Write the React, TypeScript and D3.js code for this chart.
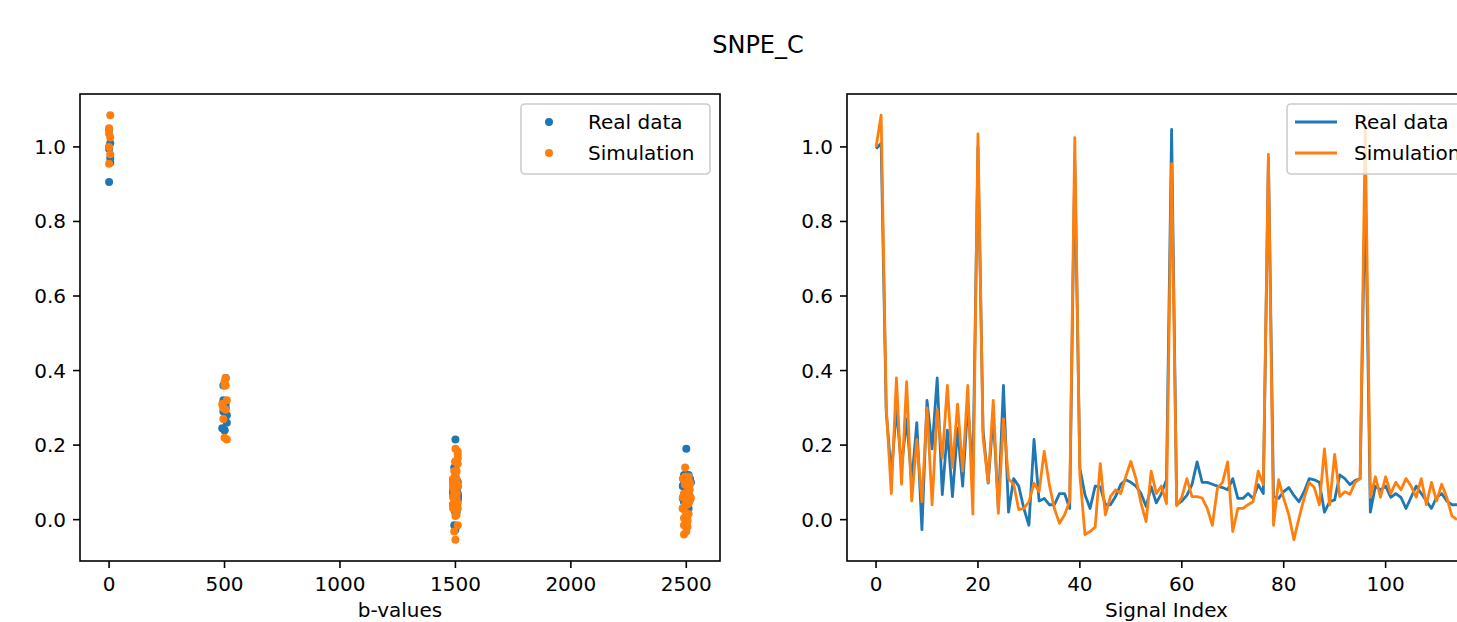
import React, { useRef, useEffect } from 'react'
import * as d3 from 'd3'

// signal per acquisition index (115 measurements)
const realSignal = [
  0.995, 1.01, 0.29, 0.12, 0.30, 0.14, 0.27, 0.10, 0.26, -0.027,
  0.32, 0.19, 0.38, 0.067, 0.24, 0.062, 0.245, 0.09, 0.31, 0.12,
  1.0, 0.24, 0.098, 0.28, 0.03, 0.36, 0.02, 0.11, 0.09, 0.03,
  -0.015, 0.215, 0.05, 0.057, 0.04, 0.04, 0.07, 0.07, 0.03, 0.958,
  0.138, 0.067, 0.03, 0.09, 0.088, 0.04, 0.04, 0.062, 0.094, 0.107,
  0.10, 0.09, 0.07, 0.035, 0.088, 0.045, 0.07, 0.107, 1.047, 0.04,
  0.05, 0.065, 0.094, 0.155, 0.10, 0.10, 0.095, 0.09, 0.086, 0.08,
  0.11, 0.057, 0.057, 0.07, 0.057, 0.094, 0.07, 0.97, 0.062, 0.057,
  0.075, 0.086, 0.065, 0.048, 0.075, 0.11, 0.107, 0.10, 0.02, 0.048,
  0.053, 0.12, 0.11, 0.094, 0.105, 0.11, 0.906, 0.02, 0.09, 0.08,
  0.09, 0.06, 0.07, 0.06, 0.03, 0.06, 0.09, 0.07, 0.05, 0.03,
  0.06, 0.07, 0.05, 0.04, 0.04,
]
const simSignal = [
  1.0, 1.085, 0.30, 0.07, 0.38, 0.095, 0.37, 0.05, 0.215, 0.048,
  0.30, 0.04, 0.295, 0.165, 0.36, 0.14, 0.31, 0.13, 0.36, 0.015,
  1.035, 0.22, 0.10, 0.32, 0.017, 0.27, 0.11, 0.095, 0.027, 0.03,
  0.048, 0.098, 0.075, 0.183, 0.094, 0.03, -0.01, 0.013, 0.05, 1.025,
  0.12, -0.04, -0.032, -0.02, 0.15, 0.013, 0.062, 0.08, 0.07, 0.115,
  0.156, 0.11, 0.044, -0.005, 0.13, 0.07, 0.09, 0.043, 0.955, 0.037,
  0.06, 0.11, 0.062, 0.062, 0.058, 0.03, -0.015, 0.085, 0.10, 0.155,
  -0.032, 0.03, 0.03, 0.04, 0.048, 0.13, 0.094, 0.98, -0.015, 0.107,
  0.057, 0.013, -0.054, 0.004, 0.057, 0.10, 0.086, 0.04, 0.19, 0.04,
  0.175, 0.062, 0.075, 0.068, 0.10, 0.11, 1.05, 0.06, 0.115, 0.06,
  0.115, 0.07, 0.10, 0.08, 0.11, 0.09, 0.06, 0.11, 0.04, 0.10,
  0.05, 0.095, 0.06, 0.01, 0.0,
]
// b-value of each acquisition
const bValues = [
  0, 5, 495, 2490, 505, 1495, 500, 2505, 510, 1500,
  495, 2500, 505, 1510, 500, 2495, 490, 1505, 505, 2510,
  0, 500, 1490, 510, 2500, 495, 1505, 2515, 1500, 2485,
  1495, 1500, 2505, 1510, 2495, 1490, 2500, 1505, 2510, 5,
  1500, 2490, 1495, 2505, 1510, 2500, 1490, 2515, 1505, 2495,
  1500, 2485, 1510, 2505, 1495, 2500, 1500, 2510, 0, 1505,
  2495, 1490, 2500, 1500, 2520, 1510, 2490, 1495, 2505, 1500,
  2500, 1505, 2485, 1490, 2510, 1500, 2495, 5, 1510, 2500,
  1495, 2505, 1500, 2490, 1505, 2515, 1490, 2500, 1500, 2495,
  1510, 2505, 1495, 2500, 1505, 2490, 0, 1500, 2510, 1490,
  2500, 1505, 2495, 1500, 2505, 1510, 2485, 1495, 2500, 1505,
  2515, 1490, 2500, 1500, 2505,
]

const bTicks = [0, 500, 1000, 1500, 2000, 2500]
const indexTicks = [0, 20, 40, 60, 80, 100]
const yTicks = [0, 0.2, 0.4, 0.6, 0.8, 1.0]
const seriesNames = ['Real data', 'Simulation']
const colors = ['#1f77b4', '#ff7f0e']

const FONT = '"DejaVu Sans", sans-serif'

function padded(values: number[]): [number, number] {
  const [lo, hi] = d3.extent(values) as [number, number]
  const m = (hi - lo) * 0.05
  return [lo - m, hi + m]
}

export default function App() {
  const svgRef = useRef<SVGSVGElement>(null)

  useEffect(() => {
    const svg = d3.select(svgRef.current)
    svg.selectAll('*').remove()

    const top = 94, bottom = 561
    const panels = [
      { x0: 80, x1: 720, label: 'b-values', ticks: bTicks, kind: 'scatter' },
      { x0: 847, x1: 1486, label: 'Signal Index', ticks: indexTicks, kind: 'line' },
    ]

    const yScale = d3.scaleLinear()
      .domain(padded(realSignal.concat(simSignal)))
      .range([bottom, top])

    svg.append('text')
      .attr('x', 758).attr('y', 53)
      .attr('text-anchor', 'middle')
      .style('font-family', FONT).style('font-size', '24px')
      .text('SNPE_C')

    panels.forEach((p, pi) => {
      const idx = realSignal.map((d, i) => i)
      const xScale = d3.scaleLinear()
        .domain(p.kind === 'scatter' ? padded(bValues) : padded(idx))
        .range([p.x0, p.x1])

      const g = svg.append('g')
      const clipId = 'clip' + pi
      g.append('clipPath').attr('id', clipId)
        .append('rect')
        .attr('x', p.x0).attr('y', top)
        .attr('width', p.x1 - p.x0).attr('height', bottom - top)

      const plot = g.append('g').attr('clip-path', `url(#${clipId})`)
      const series = [realSignal, simSignal]

      if (p.kind === 'scatter') {
        series.forEach((s, si) => {
          plot.selectAll('circle.s' + si)
            .data(s)
            .enter().append('circle')
            .attr('class', 's' + si)
            .attr('cx', (d, i) => xScale(bValues[i]))
            .attr('cy', d => yScale(d))
            .attr('r', 4)
            .attr('fill', colors[si])
        })
      } else {
        const line = d3.line<number>()
          .x((d, i) => xScale(i))
          .y(d => yScale(d))
        series.forEach((s, si) => {
          plot.append('path')
            .attr('d', line(s))
            .attr('fill', 'none')
            .attr('stroke', colors[si])
            .attr('stroke-width', 2.8)
            .attr('stroke-linejoin', 'round')
        })
      }

      // frame
      g.append('rect')
        .attr('x', p.x0).attr('y', top)
        .attr('width', p.x1 - p.x0).attr('height', bottom - top)
        .attr('fill', 'none').attr('stroke', 'black').attr('stroke-width', 1.6)

      // x ticks
      p.ticks.forEach(t => {
        const x = xScale(t)
        g.append('line')
          .attr('x1', x).attr('x2', x).attr('y1', bottom).attr('y2', bottom + 7)
          .attr('stroke', 'black').attr('stroke-width', 1.6)
        g.append('text')
          .attr('x', x).attr('y', bottom + 30)
          .attr('text-anchor', 'middle')
          .style('font-family', FONT).style('font-size', '20px')
          .text(t)
      })
      // y ticks
      yTicks.forEach(t => {
        const y = yScale(t)
        g.append('line')
          .attr('x1', p.x0 - 7).attr('x2', p.x0).attr('y1', y).attr('y2', y)
          .attr('stroke', 'black').attr('stroke-width', 1.6)
        g.append('text')
          .attr('x', p.x0 - 14).attr('y', y + 7)
          .attr('text-anchor', 'end')
          .style('font-family', FONT).style('font-size', '20px')
          .text(t.toFixed(1))
      })

      g.append('text')
        .attr('x', (p.x0 + p.x1) / 2).attr('y', 617)
        .attr('text-anchor', 'middle')
        .style('font-family', FONT).style('font-size', '20px')
        .text(p.label)

      // legend, upper right
      const lw = 189, lh = 70
      const lx = p.x1 - 10 - lw, ly = top + 10
      const leg = g.append('g')
      leg.append('rect')
        .attr('x', lx).attr('y', ly).attr('width', lw).attr('height', lh)
        .attr('rx', 4)
        .attr('fill', 'white').attr('fill-opacity', 0.8)
        .attr('stroke', '#cccccc').attr('stroke-width', 1.6)
      seriesNames.forEach((name, si) => {
        const ry = ly + 18 + si * 31
        if (p.kind === 'scatter') {
          leg.append('circle')
            .attr('cx', lx + 28).attr('cy', ry).attr('r', 4)
            .attr('fill', colors[si])
        } else {
          leg.append('line')
            .attr('x1', lx + 8).attr('x2', lx + 50).attr('y1', ry).attr('y2', ry)
            .attr('stroke', colors[si]).attr('stroke-width', 2.8)
        }
        leg.append('text')
          .attr('x', lx + 67).attr('y', ry + 7)
          .style('font-family', FONT).style('font-size', '20px')
          .text(name)
      })
    })
  }, [])

  return (
    <svg
      ref={svgRef}
      width={1457}
      height={622}
      style={{ position: 'absolute', left: 0, top: 0, background: 'white' }}
    />
  )
}
